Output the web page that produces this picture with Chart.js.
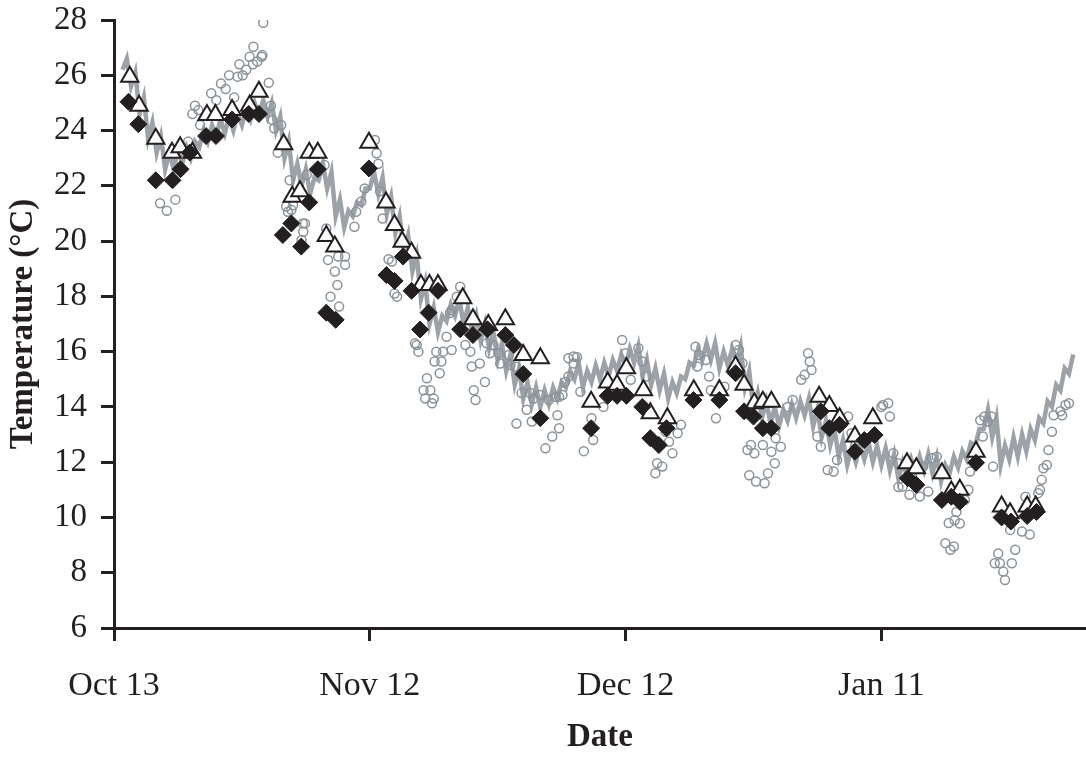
<!DOCTYPE html>
<html>
<head>
<meta charset="utf-8">
<script src="https://cdn.jsdelivr.net/npm/chart.js@4.4.0/dist/chart.umd.min.js"></script>
<style>
  html, body { margin: 0; padding: 0; background: #fff; }
  #wrap { width: 1086px; height: 758px; }
</style>
</head>
<body>
<div id="wrap"><canvas id="chart" width="1086" height="758"></canvas></div>
<script>
// Days counted from Oct 13
const tickDays = [0, 30, 60, 90];
const tickLabels = ['Oct 13', 'Nov 12', 'Dec 12', 'Jan 11'];

// Continuous record (gray line), two readings per day starting at day 1
const lineStartDay = 1;
const lineTemps = [
  26.2, 26.6, 25.6, 26.1, 24.6, 25.2, 23.7, 24.3, 23.2, 23.8,
  22.6, 23.2, 22.6, 23.3, 22.8, 23.4, 23.0, 23.6, 23.4, 24.0,
  23.6, 24.2, 23.8, 24.4, 23.9, 24.5, 24.0, 24.6, 24.2, 24.8,
  24.4, 25.0, 24.6, 25.1, 24.5, 25.0, 24.0, 24.5, 23.0, 23.6,
  22.2, 22.8, 22.0, 22.6, 21.7, 22.3, 22.2, 22.8, 21.9, 22.5,
  20.9, 21.5, 20.5, 21.1, 20.9, 21.4, 21.3, 21.9, 21.9, 22.5,
  21.7, 22.3, 21.0, 21.6, 20.3, 20.9, 19.6, 20.2, 18.9, 19.5,
  17.9, 18.5, 17.0, 17.6, 16.7, 17.3, 17.1, 17.7, 17.3, 17.9,
  17.0, 17.6, 16.7, 17.3, 16.4, 17.0, 16.1, 16.7, 15.7, 16.3,
  15.3, 15.9, 14.8, 15.4, 14.3, 14.9, 14.1, 14.7, 14.0, 14.6,
  14.1, 14.7, 14.3, 14.9, 14.7, 15.3, 15.0, 15.6, 14.7, 15.3,
  14.9, 15.5, 15.0, 15.6, 15.1, 15.7, 15.3, 15.9, 15.5, 16.1,
  15.6, 16.2, 15.1, 15.7, 14.8, 15.4, 14.6, 15.2, 14.3, 14.9,
  14.5, 15.1, 15.0, 15.6, 15.5, 16.1, 15.7, 16.3, 15.7, 16.3,
  15.4, 16.0, 15.5, 16.1, 15.6, 16.2, 14.7, 15.3, 13.9, 14.5,
  13.6, 14.2, 13.4, 14.0, 13.3, 13.9, 13.5, 14.1, 13.6, 14.2,
  13.7, 14.3, 13.3, 13.9, 12.9, 13.5, 12.6, 13.2, 12.2, 12.8,
  11.9, 12.5, 12.0, 12.6, 12.1, 12.7, 12.0, 12.6, 11.9, 12.5,
  11.7, 12.3, 11.4, 12.0, 11.5, 12.1, 11.6, 12.2, 11.7, 12.3,
  11.6, 12.2, 11.3, 11.9, 11.6, 12.2, 11.8, 12.4, 12.1, 12.7,
  12.6, 13.2, 13.2, 13.9, 12.9, 13.6, 11.9, 12.6, 12.1, 12.9,
  12.2, 13.0, 12.4, 13.2, 12.8, 13.6, 13.4, 14.2, 14.0, 14.8,
  14.6, 15.4, 15.2, 15.9
];

// Open circles
const circleDays = [
  5.4, 6.2, 7.2, 8.7, 9.2, 9.5, 9.9, 10.1, 11.4, 12.0, 12.55, 13.1, 13.5, 14.1, 14.5, 14.7,
  15.1, 15.5, 15.9, 16.3, 16.35, 16.8, 17.3, 17.5, 17.4, 18.15, 18.4, 18.6, 18.8, 19.6, 19.2,
  20.6, 20.2, 20.8, 21.0, 20.4, 22.15, 22.4, 22.2, 22.0, 22.6, 24.7, 24.9, 25.1, 25.9, 26.2,
  25.4, 26.4, 26.3, 27.1, 27.1, 28.2, 28.4, 29.0, 29.4, 30.6, 30.8, 31.0, 31.2, 31.5, 32.2,
  32.6, 32.9, 33.2, 35.3, 35.5, 35.7, 36.3, 36.5, 36.7, 37.1, 37.3, 37.5, 37.6, 37.8, 38.2,
  38.4, 38.6, 39.0, 39.4, 39.6, 39.6, 40.2, 40.6, 41.2, 41.8, 41.96, 42.2, 42.4, 42.9, 43.5,
  43.7, 44.1, 44.5, 45.1, 45.3, 46.3, 46.5, 47.1, 47.2, 47.8, 48.4, 48.8, 49.0, 49.2, 50.0,
  50.6, 51.0, 51.4, 51.8, 52.0, 52.2, 52.2, 52.6, 52.9, 53.3, 53.3, 53.9, 53.9, 54.3, 54.7,
  55.1, 56.0, 56.2, 57.4, 59.6, 60.0, 60.6, 61.5, 61.96, 62.4, 63.5, 63.7, 64.3, 64.7, 65.1,
  65.5, 66.1, 66.5, 68.2, 68.4, 68.6, 69.4, 69.8, 70.0, 70.6, 71.6, 72.9, 73.3, 73.7, 74.3,
  74.5, 74.7, 75.1, 75.3, 76.1, 76.3, 76.7, 77.1, 77.5, 77.6, 78.2, 79.0, 79.6, 80.6, 81.0,
  81.4, 81.6, 81.8, 82.5, 82.9, 83.7, 84.4, 84.8, 86.1, 86.5, 87.3, 90.0, 90.2, 90.8, 91.0,
  91.4, 91.96, 92.0, 92.5, 93.3, 94.5, 94.9, 95.5, 95.9, 96.5, 97.5, 97.9, 98.1, 98.5, 98.6,
  98.8, 99.2, 99.8, 100.2, 100.4, 101.6, 101.9, 102.1, 102.5, 102.9, 103.1, 103.3, 103.7, 103.9, 104.3,
  104.5, 105.1, 105.3, 105.7, 106.5, 106.9, 107.4, 108.4, 108.6, 108.8, 109.0, 109.4, 109.6, 110.0, 110.2,
  111.0, 111.2, 111.6, 112.0
];
const circleTemps = [
  21.37, 21.1, 21.5, 23.6, 24.6, 24.9, 24.74, 24.2, 25.35, 25.1, 25.7, 25.5, 26.0, 25.2, 25.95, 26.4,
  26.0, 26.2, 26.67, 26.4, 27.03, 26.5, 26.67, 27.9, 26.73, 25.73, 24.9, 24.38, 24.08, 24.2, 23.2,
  22.2, 21.25, 21.13, 21.3, 21.06, 20.64, 20.64, 20.34, 20.04, 22.4, 22.75, 20.46, 19.32, 18.9, 18.41,
  17.99, 17.63, 19.44, 19.44, 19.14, 20.52, 21.06, 21.43, 21.9, 23.66, 23.18, 22.8, 21.8, 20.82, 19.34,
  19.26, 18.1, 17.99, 16.3, 16.24, 16.0, 14.6, 14.3, 15.04, 14.6, 14.13, 14.3, 15.64, 16.0, 15.22,
  15.64, 16.0, 16.54, 17.4, 16.06, 17.5, 17.99, 18.35, 16.24, 16.0, 15.46, 14.6, 14.25, 15.57, 14.9,
  16.3, 15.94, 16.24, 15.94, 15.57, 15.88, 15.52, 15.46, 13.4, 14.5, 13.9, 14.5, 13.47, 14.3, 14.43,
  12.5, 14.25, 12.93, 14.37, 13.7, 13.23, 14.37, 14.43, 14.9, 15.1, 15.76, 15.57, 15.82, 15.8, 14.55,
  12.4, 13.59, 12.8, 14.0, 16.42, 15.94, 14.98, 16.12, 15.64, 15.1, 11.6, 11.96, 11.84, 13.1, 12.74,
  12.32, 13.05, 13.35, 16.18, 15.46, 15.88, 15.7, 15.1, 14.6, 13.59, 14.73, 16.24, 16.06, 15.58, 12.44,
  11.53, 12.62, 12.32, 11.3, 12.62, 11.24, 11.6, 12.38, 11.96, 12.87, 12.56, 14.0, 14.25, 14.98, 15.16,
  15.94, 15.64, 15.34, 12.93, 12.56, 11.72, 11.66, 12.08, 13.65, 13.05, 12.8, 14.0, 14.07, 14.13, 13.65,
  12.32, 11.96, 11.1, 11.12, 10.82, 10.76, 11.84, 10.94, 12.14, 12.2, 9.07, 9.8, 8.83, 8.95, 9.9,
  10.2, 9.78, 10.63, 11.0, 11.66, 13.52, 12.93, 13.65, 13.47, 13.65, 11.84, 8.34, 8.7, 8.34, 8.04,
  7.74, 9.55, 8.34, 8.83, 9.49, 10.75, 9.38, 10.88, 11.0, 11.36, 11.78, 11.9, 12.44, 13.1, 13.7,
  13.84, 13.7, 14.07, 14.13
];

// Open triangles
const triangleDays = [
  1.85, 2.94, 4.9, 6.8, 7.76, 9.2, 10.9, 11.9, 13.85, 15.9, 17.0, 19.9, 20.9, 21.8, 22.9, 23.9,
  24.9, 25.9, 29.9, 31.9, 32.9, 33.8, 34.9, 36.0, 37.0, 38.0, 40.9, 42.1, 43.9, 45.9, 48.0, 50.0,
  55.96, 57.9, 59.0, 60.1, 62.1, 62.9, 64.9, 68.0, 71.0, 72.9, 73.9, 75.1, 76.1, 77.1, 82.7, 83.9,
  85.1, 86.9, 89.0, 93.0, 94.1, 97.1, 98.2, 99.2, 101.1, 104.1, 105.1, 107.1, 108.1
];
const triangleTemps = [
  25.95, 24.9, 23.7, 23.2, 23.4, 23.2, 24.56, 24.56, 24.74, 24.9, 25.4, 23.5, 21.6, 21.8, 23.2, 23.2,
  20.18, 19.8, 23.56, 21.4, 20.58, 19.98, 19.58, 18.41, 18.41, 18.41, 17.93, 17.17, 16.96, 17.17, 15.88, 15.76,
  14.19, 14.88, 14.8, 15.4, 14.6, 13.77, 13.59, 14.6, 14.6, 15.46, 14.8, 14.13, 14.19, 14.19, 14.37, 14.03,
  13.59, 12.93, 13.59, 11.96, 11.78, 11.6, 10.94, 11.0, 12.38, 10.4, 10.15, 10.4, 10.4
];

// Filled diamonds
const diamondDays = [
  1.7, 2.86, 4.9, 6.86, 7.8, 8.9, 10.8, 11.96, 13.85, 15.8, 17.0, 19.8, 20.8, 21.96, 22.9, 23.9,
  24.9, 26.0, 29.9, 31.96, 32.9, 33.9, 34.9, 35.9, 36.9, 38.0, 40.6, 42.1, 43.8, 45.9, 46.9, 48.0,
  50.0, 55.96, 57.9, 59.0, 60.1, 61.96, 62.9, 63.9, 64.8, 67.96, 71.0, 72.9, 73.9, 75.0, 76.1, 77.1,
  82.9, 83.9, 85.1, 86.9, 88.0, 89.2, 93.1, 94.1, 97.1, 98.2, 99.2, 101.1, 104.1, 105.2, 107.1, 108.2
];
const diamondTemps = [
  25.04, 24.23, 22.2, 22.2, 22.6, 23.2, 23.8, 23.8, 24.4, 24.6, 24.6, 20.22, 20.64, 19.8, 21.4, 22.6,
  17.41, 17.15, 22.63, 18.77, 18.56, 19.44, 18.2, 16.8, 17.41, 18.2, 16.81, 16.6, 16.81, 16.6, 16.24, 15.19,
  13.59, 13.23, 14.4, 14.4, 14.4, 14.0, 12.87, 12.62, 13.23, 14.25, 14.25, 15.22, 13.84, 13.65, 13.23, 13.23,
  13.84, 13.23, 13.35, 12.38, 12.8, 12.98, 11.42, 11.18, 10.63, 10.75, 10.57, 11.98, 10.0, 9.85, 10.05, 10.2
];

function toPoints(xs, ys) {
  return xs.map(function(x, i) { return { x: x, y: ys[i] }; });
}

const linePoints = lineTemps.map(function(t, i) {
  return { x: lineStartDay + i * 0.5, y: t };
});

const ink = '#231f20';
const serif = "'Liberation Serif', 'Times New Roman', serif";

new Chart(document.getElementById('chart'), {
  type: 'scatter',
  data: {
    datasets: [
      {
        label: 'Diamonds',
        data: toPoints(diamondDays, diamondTemps),
        pointStyle: 'rectRot',
        pointRadius: 8.5,
        backgroundColor: ink,
        borderColor: ink,
        borderWidth: 1
      },
      {
        label: 'Triangles',
        data: toPoints(triangleDays, triangleTemps),
        pointStyle: 'triangle',
        pointRadius: 10,
        backgroundColor: '#ffffff',
        borderColor: ink,
        borderWidth: 2
      },
      {
        label: 'Circles',
        data: toPoints(circleDays, circleTemps),
        pointStyle: 'circle',
        pointRadius: 4.5,
        backgroundColor: 'rgba(255,255,255,0)',
        borderColor: '#8a939a',
        borderWidth: 1.5
      },
      {
        label: 'Record',
        data: linePoints,
        showLine: true,
        pointRadius: 0,
        borderColor: '#9ca2a7',
        borderWidth: 4.5,
        tension: 0
      }
    ]
  },
  options: {
    responsive: false,
    animation: false,
    layout: { autoPadding: false, padding: { top: 20, right: 0, bottom: 0, left: 0 } },
    plugins: {
      legend: { display: false },
      tooltip: { enabled: false }
    },
    scales: {
      x: {
        type: 'linear',
        min: 0,
        max: 114,
        afterFit: function(scale) {
          scale.height = 130;
          scale.paddingLeft = 0;
          scale.paddingRight = 0;
        },
        afterBuildTicks: function(scale) {
          scale.ticks = tickDays.map(function(d) { return { value: d }; });
        },
        border: { display: true, color: ink, width: 3 },
        grid: { drawOnChartArea: false, drawTicks: true, tickLength: 13, tickWidth: 3, tickColor: ink },
        ticks: {
          padding: 25,
          color: ink,
          font: { family: serif, size: 34 },
          maxRotation: 0,
          callback: function(value) {
            const i = tickDays.indexOf(value);
            return i >= 0 ? tickLabels[i] : '';
          }
        },
        title: {
          display: true,
          text: 'Date',
          color: ink,
          font: { family: serif, size: 33, weight: 'bold' },
          padding: { top: 0, bottom: 1 }
        }
      },
      y: {
        min: 6,
        max: 28,
        afterFit: function(scale) {
          scale.width = 114;
          scale.paddingTop = 20;
          scale.paddingBottom = 0;
        },
        border: { display: true, color: ink, width: 3 },
        grid: { drawOnChartArea: false, drawTicks: true, tickLength: 13, tickWidth: 3, tickColor: ink },
        ticks: {
          stepSize: 2,
          padding: 14,
          color: ink,
          font: { family: serif, size: 33 }
        },
        title: {
          display: true,
          text: 'Temperature (°C)',
          color: ink,
          font: { family: serif, size: 33, weight: 'bold' },
          padding: { top: 4, bottom: 0 }
        }
      }
    }
  }
});
</script>
</body>
</html>
